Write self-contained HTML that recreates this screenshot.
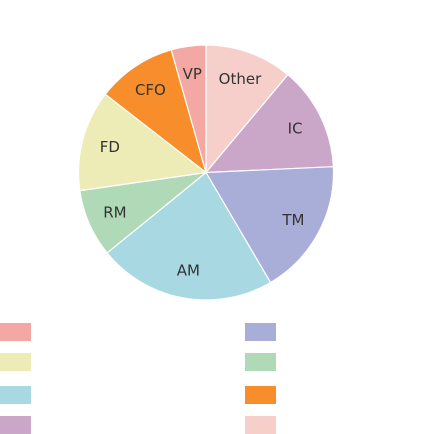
<!DOCTYPE html>
<html><head><meta charset="utf-8"><style>
body{margin:0;width:432px;height:434px;background:#fff;overflow:hidden}
svg{display:block}
</style></head><body>
<svg id="chart" width="432" height="434" xmlns="http://www.w3.org/2000/svg"></svg>
<script>
const categories = ["Other","IC","TM","AM","RM","FD","CFO","VP"];
const values = [11.1,13.2,17.3,22.6,8.6,12.8,10.1,4.4];
const colors = ["#f7cfca","#caa6c8","#a8aed8","#a8d8e2","#b0dab7","#eeecb6","#f78d2b","#f4a8a3"];
const legendOrder = ["VP","FD","AM","IC","TM","RM","CFO","Other"];
const NS="http://www.w3.org/2000/svg";
const svg=document.getElementById('chart');
const cx=206,cy=172.5,r=127.5;
const total=values.reduce((a,b)=>a+b,0);
function pt(a,rr){return [cx+rr*Math.sin(a),cy-rr*Math.cos(a)];}
let acc=0;
values.forEach((v,i)=>{
  const a0=acc/total*2*Math.PI; acc+=v; const a1=acc/total*2*Math.PI;
  const p0=pt(a0,r),p1=pt(a1,r);
  const large=(a1-a0)>Math.PI?1:0;
  const path=document.createElementNS(NS,'path');
  path.setAttribute('d',`M${cx},${cy}L${p0[0]},${p0[1]}A${r},${r} 0 ${large} 1 ${p1[0]},${p1[1]}Z`);
  path.setAttribute('fill',colors[i]);
  path.setAttribute('stroke','#fff');
  path.setAttribute('stroke-width','1.2');
  
  
  svg.appendChild(path);
  const am=(a0+a1)/2; const lp=pt(am,r*0.78);
  const t=document.createElementNS(NS,'text');
  t.setAttribute('x',lp[0]);t.setAttribute('y',lp[1]+5);
  t.setAttribute('text-anchor','middle');
  t.setAttribute('font-family','DejaVu Sans, Liberation Sans, sans-serif');
  t.setAttribute('font-size','15');t.setAttribute('fill','#333');
  t.textContent=categories[i];
  
  
  svg.appendChild(t);
});
const rowsY=[323,353,386,416];
legendOrder.forEach((c,j)=>{
  const i=categories.indexOf(c);
  const col=Math.floor(j/4), row=j%4;
  const rect=document.createElementNS(NS,'rect');
  rect.setAttribute('x',col?245:0);rect.setAttribute('y',rowsY[row]);
  rect.setAttribute('width',31);rect.setAttribute('height',18);
  rect.setAttribute('fill',colors[i]);
  
  
  svg.appendChild(rect);
});
</script>
</body></html>
